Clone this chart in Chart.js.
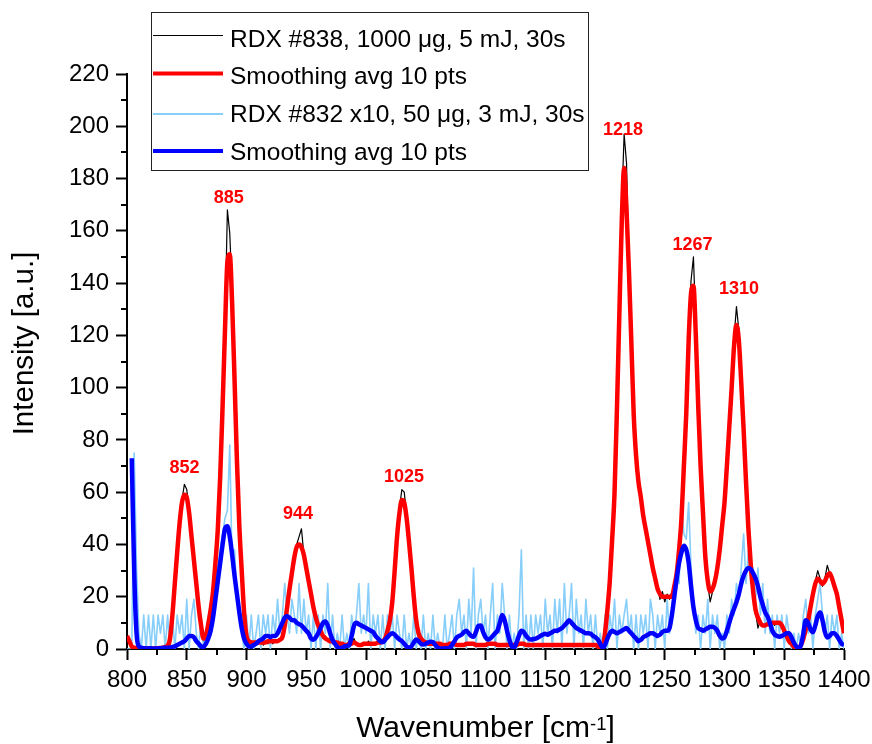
<!DOCTYPE html>
<html>
<head>
<meta charset="utf-8">
<title>RDX spectra</title>
<script src="https://cdn.jsdelivr.net/npm/chart.js@4.4.1/dist/chart.umd.min.js"></script>
<style>
    html, body { margin: 0; padding: 0; background: #fff; overflow: hidden; }
    canvas { display: block; }
</style>
</head>
<body>
<canvas id="chart" width="872" height="744"></canvas>
<script>
// sampling grid of the spectra, cm-1
const wnStart = 800;
const wnStep = 2;

// RDX #838, 1000 ug, 5 mJ, 30s (raw)
const rdx838Raw = [
    6, 2, 0.5, 0, 0.5, 0, 0.3, 0, 0.5, 0,            // 800
    0.5, 0, 0.3, 0.8, 0, 0.5, 1, 1.5, 4.5, 12,       // 820
    26, 36, 50, 57, 63, 61, 53, 44, 33, 26,          // 840
    17, 8, 3, 6, 9, 16, 21, 34, 45, 68,              // 860
    95, 124, 168, 159, 136, 104, 71, 48, 29, 15,     // 880
    4, 2, 3, 1.5, 3, 2, 4, 1.5, 3, 2,                // 900
    4, 2, 3.5, 2.5, 4, 5, 10, 15, 24, 30,            // 920
    34, 40, 43, 46, 36, 32, 25, 22, 15, 13,          // 940
    8, 7.5, 4, 5, 3, 3.5, 2, 3, 2, 2.5,              // 960
    1.5, 2, 1, 3, 1.5, 4, 1.5, 2, 1, 2.5,            // 980
    1.5, 3, 1.5, 2.5, 2, 3, 2, 3.5, 4.5, 6,          // 1000
    12, 17, 31, 44, 54, 61, 60, 51, 42, 30,          // 1020
    21, 10, 7, 3.5, 3.5, 2, 2.5, 1.5, 2.5, 1.5,      // 1040
    2.5, 1.5, 2, 1, 2, 2.5, 1.5, 2.5, 1, 2,          // 1060
    1, 2, 2.5, 1.5, 2.5, 1.5, 2, 1, 2, 1,            // 1080
    2, 1.5, 2.5, 2, 1.5, 2, 1, 2, 1.5, 1,            // 1100
    2, 1, 2, 1.5, 2.5, 1.5, 2.5, 1, 2, 1.5,          // 1120
    1, 2, 1.5, 2, 1, 1.5, 2, 1, 2, 1.5,              // 1140
    2, 1, 1.5, 2, 1.5, 1, 2, 1.5, 1, 2,              // 1160
    1, 2, 1.5, 1, 2, 1.5, 1, 1.5, 0.5, 1.5,          // 1180
    7, 14, 27, 43, 61, 93, 130, 170, 197, 186,       // 1200
    147, 117, 89, 69, 62, 60, 50, 47, 40, 37,        // 1220
    32, 26, 24, 19, 22, 18, 21, 19, 22, 23,          // 1240
    30, 37, 51, 71, 92, 121, 141, 150, 124, 94,      // 1260
    71, 51, 36, 25, 18, 22, 25, 32, 37, 48,          // 1280
    57, 71, 86, 101, 119, 131, 122, 103, 85, 63,     // 1300
    47, 31, 23, 14, 8, 11, 9, 10, 9, 10,             // 1320
    11, 9, 10.5, 9, 10, 6, 5.5, 2, 2.5, 0.5,         // 1340
    0, 1, 1, 5, 7, 12, 15, 22, 26, 30,               // 1360
    27, 24, 27, 32, 29, 28, 23, 22, 15, 12,          // 1380
    7                                                // 1400
];

// RDX #838 smoothed, 10 pts
const rdx838Smooth = [
    5, 3, 1, 0.5, 0.3, 0.2, 0.2, 0.3, 0.3, 0.2,
    0.2, 0.2, 0.3, 0.3, 0.4, 0.5, 0.8, 1.2, 4, 13,
    25, 37, 48, 56, 59, 58, 52, 43, 34, 25,
    16, 9, 4, 5, 9.5, 15, 22, 33, 46, 66,
    93, 122, 148, 151, 132, 103, 72, 47, 30, 14,
    5, 3, 2.5, 2.5, 2.5, 2.5, 2.5, 2.5, 2.5, 3,
    3, 3, 3, 3, 3.5, 4.5, 9, 16, 23, 29,
    35, 39, 40, 39, 36, 31, 26, 21, 16, 12,
    9, 7, 5, 4, 3.5, 3, 3, 2.5, 2.5, 2,
    2, 1.5, 1.5, 2, 2, 2.5, 2, 1.5, 1.5, 2,
    2, 2, 2, 2, 2, 2.5, 2.5, 3, 4, 7,
    11, 18, 30, 43, 52, 57, 56, 50, 41, 31,
    20, 11, 6, 4, 3, 2.5, 2, 2, 2, 2,
    2, 2, 1.5, 1.5, 1.5, 2, 2, 2, 1.5, 1.5,
    1.5, 1.5, 2, 2, 2, 2, 1.5, 1.5, 1.5, 1.5,
    1.5, 2, 2, 2, 2, 1.5, 1.5, 1.5, 1.5, 1.5,
    1.5, 1.5, 1.5, 1.5, 2, 2, 2, 1.5, 1.5, 1.5,
    1.5, 1.5, 1.5, 1.5, 1.5, 1.5, 1.5, 1.5, 1.5, 1.5,
    1.5, 1.5, 1.5, 1.5, 1.5, 1.5, 1.5, 1.5, 1.5, 1.5,
    1.5, 1.5, 1.5, 1.5, 1.5, 1.5, 1.5, 1, 0.5, 1,
    6, 15, 26, 42, 60, 92, 128, 163, 184, 168,
    145, 118, 90, 74, 64, 58, 51, 46, 41, 36,
    31, 27, 23, 21, 20, 20, 20, 20, 20, 24,
    29, 38, 50, 70, 90, 118, 136, 139, 120, 93,
    70, 52, 35, 26, 22, 23, 26, 31, 38, 47,
    56, 70, 85, 100, 116, 124, 118, 102, 84, 64,
    46, 32, 22, 15, 12, 10, 9, 9, 9.5, 9.5,
    10, 10, 10, 10, 9, 7, 5, 3, 2, 1,
    0.5, 0.5, 1.5, 4, 7.5, 11, 16, 21, 25, 27,
    26, 25, 26, 28, 29, 27, 24, 21, 16, 11,
    6
];

// RDX #832 x10, 50 ug, 3 mJ, 30s (raw)
const rdx832Raw = [
    0, 0, 0, 75, 31, 6, 0, 13, 0, 13,            // 800
    0, 13, 0, 13, 6, 13, 0, 13, 0, 13,           // 820
    0, 13, 6, 13, 0, 19, 0, 13, 19, 6,           // 840
    0, 13, 0, 6, 13, 6, 19, 25, 31, 38,          // 860
    44, 50, 53, 78, 31, 38, 19, 13, 6, 0,        // 880
    13, 0, 13, 0, 6, 13, 0, 13, 6, 13,           // 900
    0, 13, 6, 19, 6, 13, 25, 13, 6, 19,          // 920
    13, 6, 25, 6, 19, 6, 13, 0, 13, 0,           // 940
    13, 0, 13, 6, 25, 0, 13, 0, 6, 0,            // 960
    13, 0, 6, 0, 13, 6, 13, 25, 6, 13,           // 980
    6, 25, 0, 13, 6, 13, 0, 13, 0, 13,           // 1000
    6, 13, 0, 13, 6, 0, 13, 0, 6, 0,             // 1020
    13, 0, 6, 0, 13, 0, 6, 0, 13, 0,             // 1040
    6, 0, 0, 13, 0, 6, 13, 0, 13, 19,            // 1060
    6, 13, 0, 19, 6, 31, 0, 13, 19, 6,           // 1080
    13, 0, 13, 25, 0, 13, 6, 25, 13, 0,          // 1100
    13, 0, 6, 0, 13, 38, 0, 13, 0, 13,           // 1120
    0, 13, 6, 13, 0, 19, 6, 13, 0, 19,           // 1140
    6, 19, 0, 25, 6, 13, 25, 0, 19, 6,           // 1160
    13, 0, 19, 6, 13, 0, 13, 0, 6, 0,            // 1180
    13, 0, 13, 6, 19, 0, 13, 6, 13, 19,          // 1200
    6, 13, 0, 13, 0, 13, 6, 13, 0, 19,           // 1220
    13, 0, 13, 6, 13, 0, 19, 6, 13, 25,          // 1240
    31, 25, 55, 44, 42, 56, 31, 19, 6, 13,       // 1260
    0, 13, 6, 19, 0, 13, 6, 13, 0, 6,            // 1280
    0, 13, 6, 19, 13, 25, 19, 31, 44, 25,        // 1300
    38, 25, 31, 19, 31, 13, 25, 6, 19, 6,        // 1320
    13, 0, 13, 6, 13, 0, 13, 6, 0, 6,            // 1340
    0, 6, 0, 13, 19, 6, 13, 0, 13, 19,           // 1360
    25, 13, 6, 13, 0, 13, 6, 13, 0, 6,           // 1380
    0                                            // 1400
];

// RDX #832 smoothed, 10 pts
const rdx832Smooth = [
    null, null, 73, 30, 6, 1, 0.5, 0.3, 0.2, 0.3,
    0.3, 0.2, 0.2, 0.3, 0.3, 0.4, 0.5, 0.5, 0.6, 0.8,
    1, 1.5, 2, 2.5, 3, 4, 5, 5, 4.5, 3,
    2, 1, 0.8, 2, 4, 7, 12, 19, 26, 33,
    40, 46, 47, 43, 36, 28, 21, 14, 8, 4,
    2, 1, 1, 1.5, 2, 3, 3.5, 4, 5, 5,
    4.5, 5, 5, 6, 8, 10, 12, 12.5, 12, 11,
    11, 10, 9.5, 9, 8, 7, 6, 4, 3.5, 4.5,
    6, 8, 10, 10.5, 9, 6, 3.5, 2, 0.8, 0.3,
    0.5, 1, 1.2, 1.5, 5, 9, 10, 9.5, 9, 8.5,
    8, 7.5, 7, 6.5, 5, 4, 3, 2.6, 3.5, 4.5,
    5.5, 6, 5.5, 4.5, 3.6, 3, 2, 1, 0.5, 1,
    2.5, 3.6, 3, 2, 1.7, 2, 2.5, 2.8, 2.6, 1.5,
    0.5, 0.2, 0.2, 0.3, 0.3, 0.5, 1.5, 3, 4.4, 5,
    5.5, 6.5, 7, 6, 5, 4.7, 6.5, 8.8, 9, 6.5,
    4.5, 3.6, 4, 5, 6, 7, 10, 13, 11, 7,
    3.5, 1, 0.5, 2.5, 5, 7, 6.5, 5, 4, 3.6,
    3.8, 4, 4.4, 5, 5.5, 5.8, 5.5, 6, 6.5, 7,
    7, 7.5, 8, 9, 10, 11, 10, 9, 8, 7.5,
    7, 6.5, 6, 6, 5.8, 5, 4.5, 3.6, 2, 0.5,
    1.5, 4, 6, 7, 6.5, 6, 6.5, 7, 7.5, 8,
    7, 6, 5, 4, 3, 3.5, 4.5, 5, 5.5, 6,
    6, 5.5, 5, 5.5, 6.5, 7, 7, 8, 13, 20,
    27, 33, 37, 39.5, 38, 33, 24, 16, 11, 8,
    7.5, 7, 7.5, 8, 8.5, 8.5, 8, 7, 5, 4,
    4.5, 7, 10, 13, 15.5, 18, 21, 25, 28, 30,
    31, 30.5, 29, 27, 24, 20, 17, 14, 12.5, 10,
    7, 5.5, 5, 4.7, 5, 5.5, 6, 6, 4.5, 2.5,
    1, 0.3, 1.5, 6, 11, 10, 7.5, 6.4, 9, 12.5,
    14, 11, 6.5, 4.4, 5, 6, 6, 5, 3.5, 2,
    1.5
];

// peak annotations (text, wavenumber, intensity of label baseline)
const peakLabels = ['852', '885', '944', '1025', '1218', '1267', '1310'];
const peakLabelX = [848.2, 885.2, 943.1, 1031.8, 1215.1, 1273.2, 1312.1];
const peakLabelY = [67.3, 170.6, 49.7, 64, 196.6, 152.7, 135.8];

const legendLabels = [
    'RDX #838, 1000 \u03bcg, 5 mJ, 30s',
    'Smoothing avg 10 pts',
    'RDX #832 x10, 50 \u03bcg, 3 mJ, 30s',
    'Smoothing avg 10 pts'
];

const FONT = 'Arial, "Liberation Sans", Helvetica, sans-serif';

const toPoints = (values) => values.map((v, i) => ({ x: wnStart + wnStep * i, y: v }));

const makeDataset = (label, values, color, width, order, smooth) => ({
    label: label,
    data: toPoints(values),
    borderColor: color,
    backgroundColor: color,
    borderWidth: width,
    pointRadius: 0,
    fill: false,
    order: order,
    borderJoinStyle: 'round',
    cubicInterpolationMode: smooth ? 'monotone' : 'default',
    tension: 0
});

// minor ticks, peak labels, legend box and axis titles
const overlayPlugin = {
    id: 'overlay',
    afterDraw(chart) {
        const ctx = chart.ctx;
        const xs = chart.scales.x;
        const ys = chart.scales.y;
        const area = chart.chartArea;

        ctx.save();
        ctx.strokeStyle = '#000';
        ctx.lineWidth = 2;
        ctx.beginPath();
        for (let v = 825; v < 1400; v += 50) {
            const px = Math.round(xs.getPixelForValue(v));
            ctx.moveTo(px, area.bottom);
            ctx.lineTo(px, area.bottom + 6);
        }
        for (let v = 10; v < 220; v += 20) {
            const py = Math.round(ys.getPixelForValue(v));
            ctx.moveTo(area.left, py);
            ctx.lineTo(area.left - 6, py);
        }
        ctx.stroke();

        // peak labels
        ctx.fillStyle = '#ff0000';
        ctx.font = 'bold 18px ' + FONT;
        ctx.textAlign = 'center';
        ctx.textBaseline = 'alphabetic';
        peakLabels.forEach((txt, i) => {
            ctx.fillText(txt, xs.getPixelForValue(peakLabelX[i]), ys.getPixelForValue(peakLabelY[i]));
        });

        // legend
        const box = { x: 151.5, y: 12.5, w: 437, h: 158 };
        ctx.fillStyle = '#fff';
        ctx.fillRect(box.x, box.y, box.w, box.h);
        ctx.strokeStyle = '#222';
        ctx.lineWidth = 1;
        ctx.strokeRect(box.x, box.y, box.w, box.h);
        const lineY = [35.5, 73.5, 114, 151];
        const textY = [46.7, 83.5, 121.7, 160];
        chart.data.datasets.forEach((ds, i) => {
            ctx.strokeStyle = ds.borderColor;
            ctx.lineWidth = i === 0 ? 1 : (i === 2 ? 2 : 4);
            ctx.beginPath();
            ctx.moveTo(153, lineY[i]);
            ctx.lineTo(223, lineY[i]);
            ctx.stroke();
            ctx.fillStyle = '#000';
            ctx.font = '24.5px ' + FONT;
            ctx.textAlign = 'left';
            ctx.fillText(legendLabels[i], 230, textY[i]);
        });

        // x axis title with superscript
        ctx.fillStyle = '#000';
        const mainFont = '30px ' + FONT;
        const supFont = '18.5px ' + FONT;
        ctx.font = mainFont;
        const partA = 'Wavenumber [cm';
        const partC = ']';
        const wA = ctx.measureText(partA).width;
        const wC = ctx.measureText(partC).width;
        ctx.font = supFont;
        const wB = ctx.measureText('-1').width;
        let tx = (area.left + area.right) / 2 - (wA + wB + wC) / 2;
        const baseY = 736.5;
        ctx.textAlign = 'left';
        ctx.font = mainFont;
        ctx.fillText(partA, tx, baseY);
        tx += wA;
        ctx.font = supFont;
        ctx.fillText('-1', tx, baseY - 6.5);
        tx += wB;
        ctx.font = mainFont;
        ctx.fillText(partC, tx, baseY);

        // y axis title
        ctx.translate(33.3, (area.top + area.bottom) / 2 - 18);
        ctx.rotate(-Math.PI / 2);
        ctx.textAlign = 'center';
        ctx.font = '29.5px ' + FONT;
        ctx.fillText('Intensity [a.u.]', 0, 0);
        ctx.restore();
    }
};

const tickFont = { family: FONT, size: 24 };

const chart = new Chart(document.getElementById('chart').getContext('2d'), {
    type: 'line',
    data: {
        datasets: [
            makeDataset(legendLabels[0], rdx838Raw, '#000000', 1.2, 3, false),
            makeDataset(legendLabels[1], rdx838Smooth, '#ff0000', 4.5, 1, true),
            makeDataset(legendLabels[2], rdx832Raw, '#87cefa', 1.6, 2, false),
            makeDataset(legendLabels[3], rdx832Smooth, '#0000ff', 4.5, 0, true)
        ]
    },
    options: {
        responsive: false,
        animation: false,
        events: [],
        layout: { padding: { top: 74, right: 28, left: 0, bottom: 0 } },
        plugins: {
            legend: { display: false },
            tooltip: { enabled: false }
        },
        scales: {
            x: {
                type: 'linear',
                min: 800,
                max: 1400,
                ticks: {
                    stepSize: 50, font: tickFont, color: '#000', padding: 6, maxRotation: 0, autoSkip: false,
                    callback: (v) => String(v)
                },
                grid: { drawOnChartArea: false, drawTicks: true, tickLength: 11, tickWidth: 2, tickColor: '#000' },
                border: { display: true, color: '#000', width: 2 },
                afterFit: (scale) => {
                    scale.height = 95;
                    scale.paddingLeft = 0;
                    scale.paddingRight = 0;
                }
            },
            y: {
                type: 'linear',
                min: 0,
                max: 220,
                ticks: { stepSize: 20, font: tickFont, color: '#000', padding: 7, callback: (v) => String(v) },
                grid: { drawOnChartArea: false, drawTicks: true, tickLength: 11, tickWidth: 2, tickColor: '#000' },
                border: { display: true, color: '#000', width: 2 },
                afterFit: (scale) => { scale.width = 127; }
            }
        }
    },
    plugins: [overlayPlugin]
});
</script>
</body>
</html>
